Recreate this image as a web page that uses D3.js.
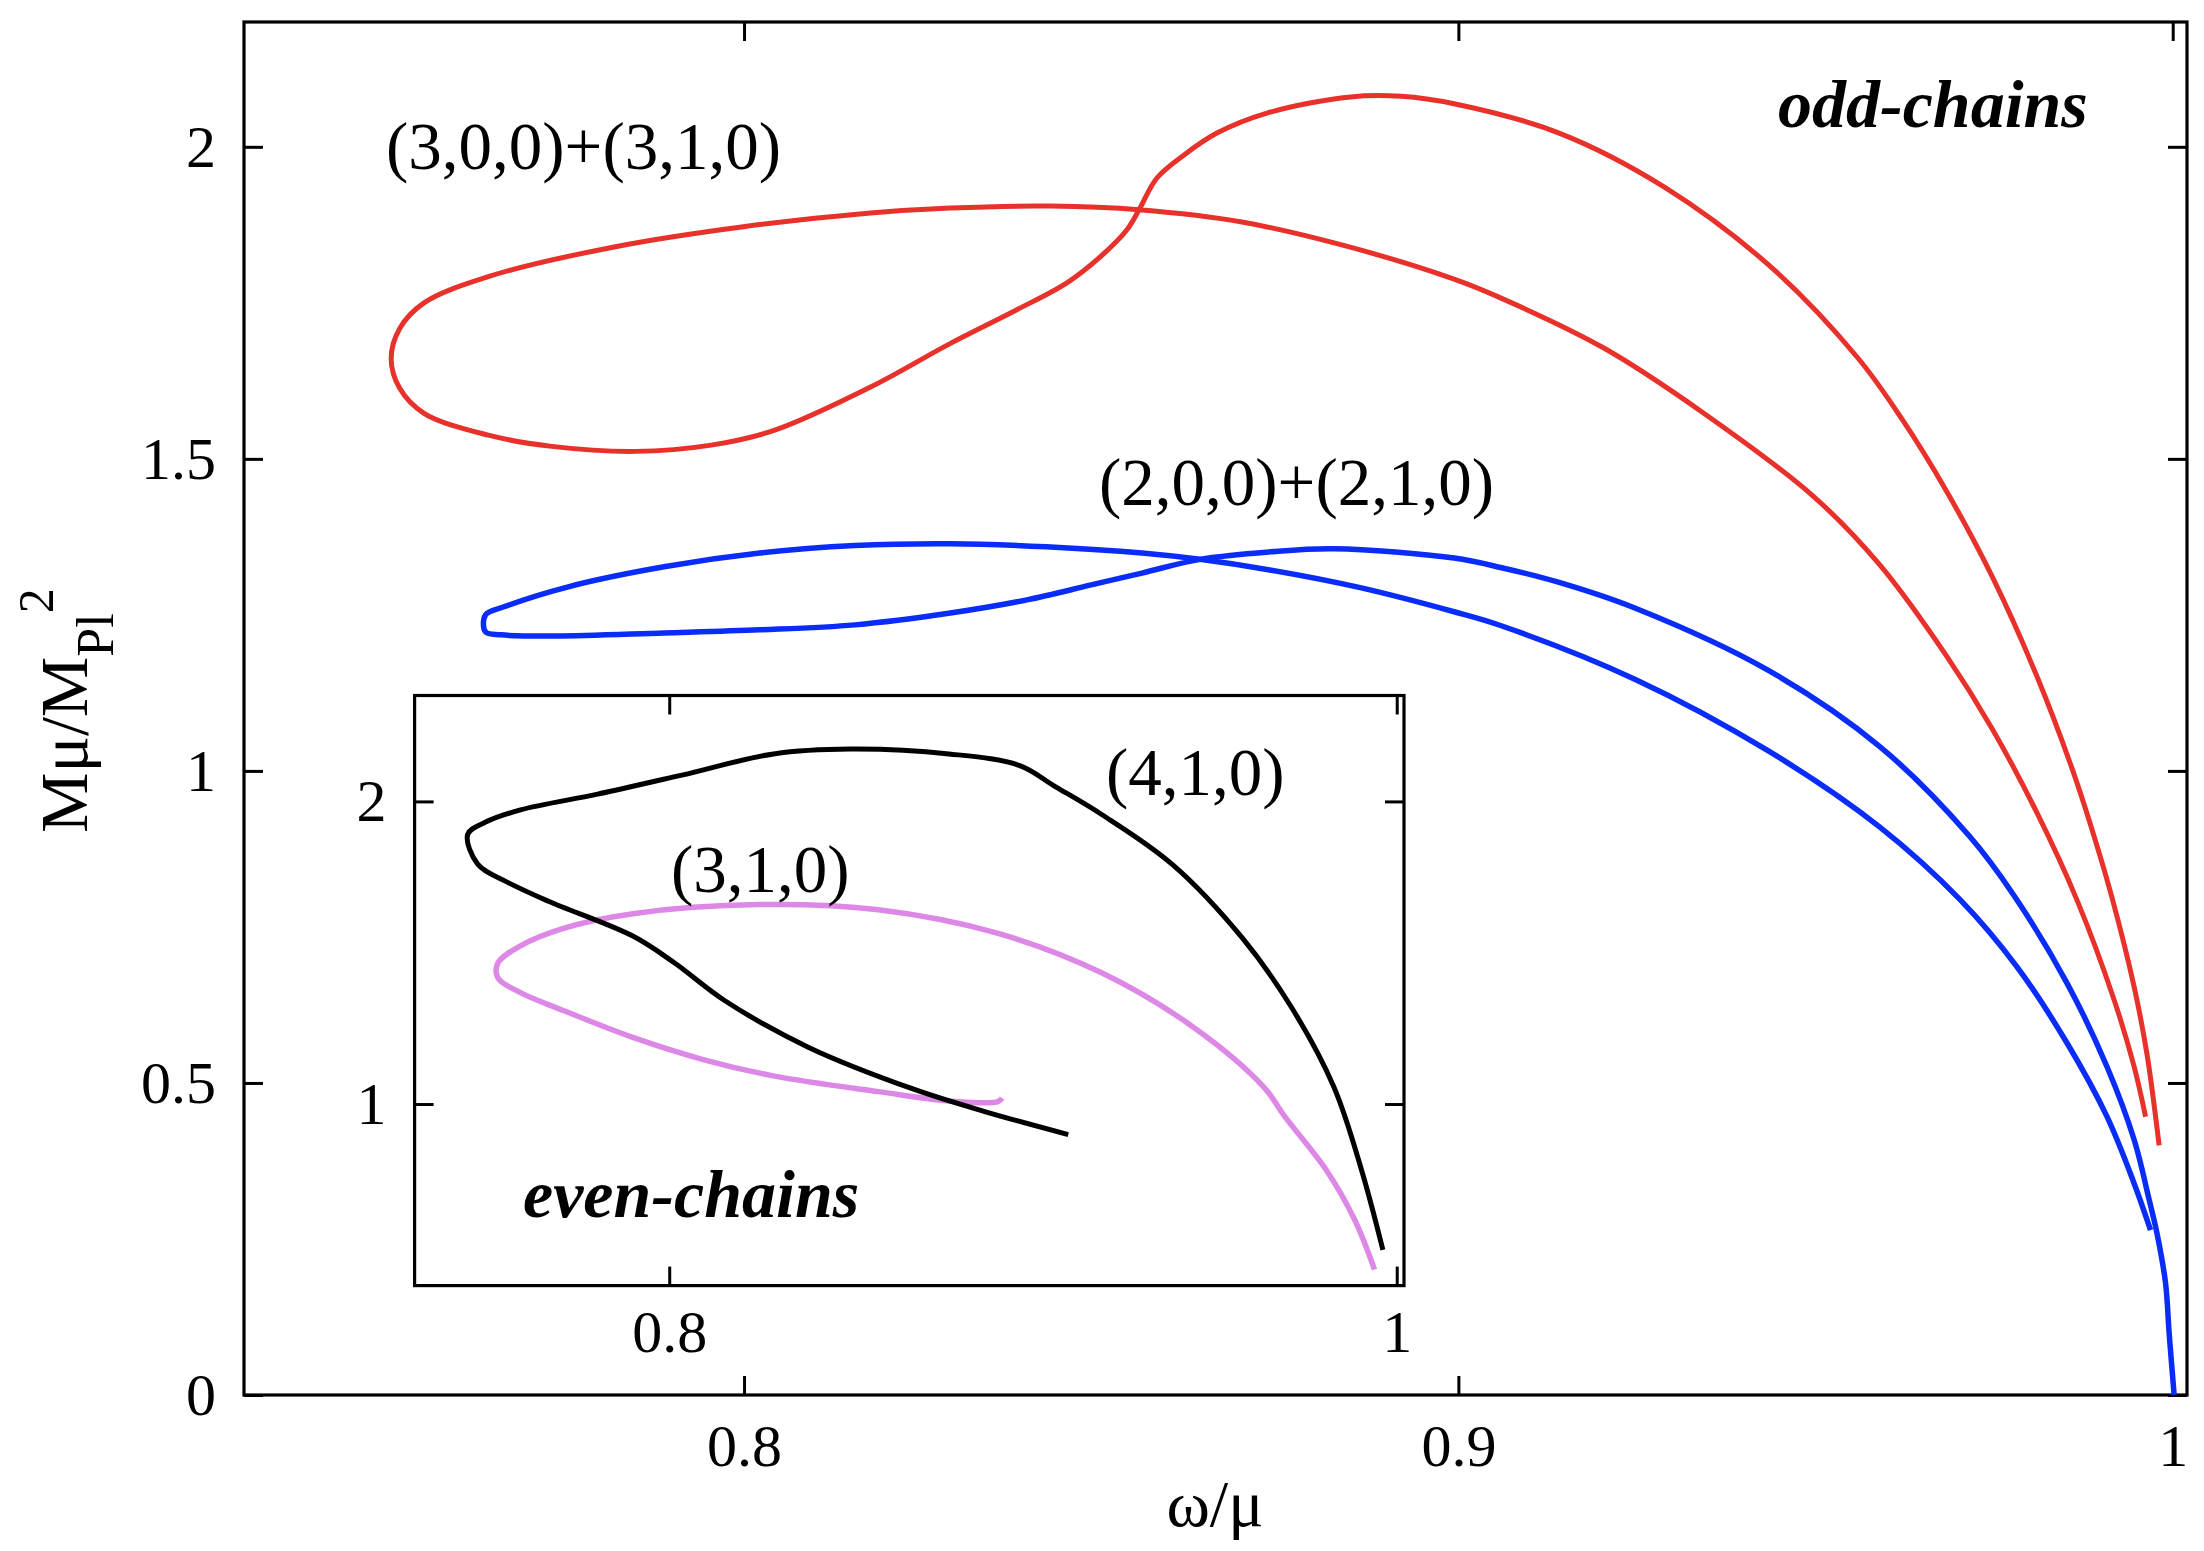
<!DOCTYPE html>
<html>
<head>
<meta charset="utf-8">
<script src="https://cdn.jsdelivr.net/npm/d3@7"></script>
<style>
  body { margin: 0; background: #fff; }
  text { font-family: "Liberation Serif", "Times New Roman", serif; fill: #000; }
</style>
</head>
<body>
<div id="chart"></div>
<script>
// odd chains (main panel): [omega/mu, M mu / M_Pl^2], traced along each branch
const oddChain3 = [
  [0.9962, 0.446], [0.9946, 0.526], [0.9918, 0.633], [0.9866, 0.793], [0.9809, 0.935],
  [0.9747, 1.068], [0.9684, 1.183], [0.9590, 1.330], [0.9497, 1.440], [0.9340, 1.576],
  [0.9203, 1.678], [0.9059, 1.758], [0.8994, 1.788], [0.8846, 1.840], [0.8699, 1.879],
  [0.8553, 1.899], [0.8429, 1.905], [0.8289, 1.902], [0.8177, 1.894], [0.7999, 1.872],
  [0.7820, 1.840], [0.7642, 1.792], [0.7552, 1.750], [0.7518, 1.709], [0.7506, 1.661],
  [0.7518, 1.613], [0.7552, 1.573], [0.7642, 1.538], [0.7731, 1.520], [0.7847, 1.512],
  [0.7954, 1.522], [0.8043, 1.546], [0.8177, 1.615], [0.8289, 1.685], [0.8382, 1.739],
  [0.8452, 1.782], [0.8499, 1.824], [0.8536, 1.867], [0.8553, 1.899], [0.8578, 1.950],
  [0.8616, 1.987], [0.8662, 2.022], [0.8732, 2.054], [0.8849, 2.080], [0.8920, 2.081],
  [0.8994, 2.069], [0.9141, 2.022], [0.9289, 1.935], [0.9437, 1.808], [0.9559, 1.662],
  [0.9622, 1.562], [0.9684, 1.447], [0.9747, 1.312], [0.9809, 1.154], [0.9859, 1.004],
  [0.9890, 0.895], [0.9915, 0.797], [0.9946, 0.654], [0.9964, 0.546], [0.9981, 0.400]
];
const oddChain2 = [
  [0.9969, 0.264], [0.9946, 0.339], [0.9908, 0.446], [0.9852, 0.564], [0.9782, 0.686],
  [0.9703, 0.793], [0.9590, 0.910], [0.9434, 1.032], [0.9247, 1.147], [0.9059, 1.233],
  [0.8994, 1.255], [0.8861, 1.294], [0.8736, 1.322], [0.8638, 1.339], [0.8557, 1.349],
  [0.8423, 1.359], [0.8289, 1.364], [0.8155, 1.361], [0.8022, 1.349], [0.7888, 1.327],
  [0.7754, 1.295], [0.7664, 1.263], [0.7638, 1.250], [0.7638, 1.223], [0.7660, 1.218],
  [0.7736, 1.216], [0.7888, 1.221], [0.8022, 1.226], [0.8155, 1.234], [0.8289, 1.253],
  [0.8396, 1.274], [0.8486, 1.298], [0.8557, 1.317], [0.8638, 1.339], [0.8736, 1.351],
  [0.8826, 1.356], [0.8994, 1.341], [0.9059, 1.326], [0.9141, 1.302], [0.9247, 1.261],
  [0.9434, 1.161], [0.9590, 1.039], [0.9715, 0.896], [0.9778, 0.800], [0.9852, 0.660],
  [0.9908, 0.526], [0.9946, 0.409], [0.9967, 0.313], [0.9978, 0.259], [0.9990, 0.179],
  [0.9995, 0.099], [1.0002, 0.000]
];

// even chains (inset)
const evenChain4 = [
  [0.9097, 0.899], [0.8865, 0.976], [0.8672, 1.049], [0.8382, 1.188], [0.8151, 1.343],
  [0.8015, 1.466], [0.7900, 1.555], [0.7668, 1.670], [0.7552, 1.735], [0.7474, 1.792],
  [0.7446, 1.891], [0.7494, 1.931], [0.7591, 1.972], [0.7803, 2.024], [0.8035, 2.087],
  [0.8287, 2.157], [0.8498, 2.173], [0.8769, 2.157], [0.8962, 2.119], [0.9060, 2.050],
  [0.9190, 1.956], [0.9383, 1.792], [0.9576, 1.548], [0.9711, 1.319], [0.9827, 1.057],
  [0.9904, 0.779], [0.9962, 0.518]
];
const evenChain3 = [
  [0.8915, 1.020], [0.8904, 1.008], [0.8788, 1.008], [0.8575, 1.041], [0.8286, 1.093],
  [0.8093, 1.147], [0.7900, 1.220], [0.7707, 1.310], [0.7591, 1.368], [0.7529, 1.417],
  [0.7529, 1.466], [0.7591, 1.523], [0.7707, 1.580], [0.7900, 1.629], [0.8247, 1.659],
  [0.8575, 1.642], [0.8904, 1.564], [0.9190, 1.433], [0.9441, 1.254], [0.9634, 1.057],
  [0.9692, 0.959], [0.9808, 0.779], [0.9885, 0.616], [0.9939, 0.453]
];

const mainXTicks = [0.8, 0.9, 1];
const mainYTicks = [0, 0.5, 1, 1.5, 2];
const insetXTicks = [0.8, 1];
const insetYTicks = [1, 2];

const W = 2204, H = 1551;
const fmt = d3.format("~g");

let svg = d3.select("#chart").append("svg")
    .attr("width", W)
    .attr("height", H)
    .style("background", "#fff");

// main panel scales
let x = d3.scaleLinear().domain([0.73, 1.002]).range([244, 2187]);
let y = d3.scaleLinear().domain([0, 2.2]).range([1395, 22]);

function drawAxes(g, sx, sy, xt, yt, tick, xpad, ypad, fs) {
    let [x0, x1] = sx.range();
    let [y0, y1] = sy.range();
    g.append("g").attr("transform", "translate(0," + y0 + ")")
        .call(d3.axisBottom(sx).tickValues(xt).tickFormat(fmt).tickSizeInner(-tick).tickSizeOuter(0).tickPadding(xpad));
    g.append("g").attr("transform", "translate(0," + y1 + ")")
        .call(d3.axisTop(sx).tickValues(xt).tickFormat("").tickSizeInner(-tick).tickSizeOuter(0));
    g.append("g").attr("transform", "translate(" + x0 + ",0)")
        .call(d3.axisLeft(sy).tickValues(yt).tickFormat(fmt).tickSizeInner(-tick).tickSizeOuter(0).tickPadding(ypad));
    g.append("g").attr("transform", "translate(" + x1 + ",0)")
        .call(d3.axisRight(sy).tickValues(yt).tickFormat("").tickSizeInner(-tick).tickSizeOuter(0));
    g.selectAll(".domain").remove();
    g.selectAll(".tick line").attr("stroke", "#000").attr("stroke-width", 3);
    g.selectAll(".tick text")
        .style("font-family", "'Liberation Serif', serif")
        .style("font-size", fs + "px")
        .attr("fill", "#000");
    g.append("rect")
        .attr("x", x0).attr("y", y1)
        .attr("width", x1 - x0).attr("height", y0 - y1)
        .attr("fill", "none").attr("stroke", "#000").attr("stroke-width", 3.2);
}

let mainG = svg.append("g");
drawAxes(mainG, x, y, mainXTicks, mainYTicks, 19, 28, 28, 60);

let line = d3.line().x(d => x(d[0])).y(d => y(d[1])).curve(d3.curveCatmullRom.alpha(0.5));

mainG.append("path").datum(oddChain3)
    .attr("d", line).attr("fill", "none")
    .attr("stroke", "#e8312a").attr("stroke-width", 5);
mainG.append("path").datum(oddChain2)
    .attr("d", line).attr("fill", "none")
    .attr("stroke", "#0a2cf8").attr("stroke-width", 5.5);

// inset panel
let xi = d3.scaleLinear().domain([0.73, 1.002]).range([414.6, 1404]);
let yi = d3.scaleLinear().domain([0.4, 2.35]).range([1285.6, 695.5]);

let insetG = svg.append("g");
insetG.append("rect")
    .attr("x", 414.6).attr("y", 695.5)
    .attr("width", 1404 - 414.6).attr("height", 1285.6 - 695.5)
    .attr("fill", "#fff");
svg.append("clipPath").attr("id", "insetClip")
    .append("rect")
    .attr("x", 414.6).attr("y", 695.5)
    .attr("width", 1404 - 414.6).attr("height", 1285.6 - 695.5);

let lineI = d3.line().x(d => xi(d[0])).y(d => yi(d[1])).curve(d3.curveCatmullRom.alpha(0.5));

insetG.append("path").datum(evenChain3)
    .attr("d", lineI).attr("fill", "none").attr("clip-path", "url(#insetClip)")
    .attr("stroke", "#dd88e6").attr("stroke-width", 5.5);
insetG.append("path").datum(evenChain4)
    .attr("d", lineI).attr("fill", "none").attr("clip-path", "url(#insetClip)")
    .attr("stroke", "#000").attr("stroke-width", 5);

drawAxes(insetG, xi, yi, insetXTicks, insetYTicks, 19, 24, 28, 60);

// curve labels
svg.append("text").attr("x", 386).attr("y", 169).style("font-size", "67px").text("(3,0,0)+(3,1,0)");
svg.append("text").attr("x", 1099).attr("y", 505).style("font-size", "67px").text("(2,0,0)+(2,1,0)");
svg.append("text").attr("x", 671).attr("y", 892).style("font-size", "67px").text("(3,1,0)");
svg.append("text").attr("x", 1106).attr("y", 795).style("font-size", "67px").text("(4,1,0)");

svg.append("text").attr("x", 1778).attr("y", 127)
    .style("font-size", "68px").style("font-weight", "bold").style("font-style", "italic")
    .text("odd-chains");
svg.append("text").attr("x", 523).attr("y", 1217)
    .style("font-size", "68px").style("font-weight", "bold").style("font-style", "italic")
    .text("even-chains");

// axis titles
svg.append("text").attr("x", 1215).attr("y", 1526)
    .attr("text-anchor", "middle").style("font-size", "66px").text("ω/μ");

let yTitle = svg.append("text")
    .attr("transform", "translate(87,833) rotate(-90)")
    .style("font-size", "68px");
yTitle.append("tspan").text("Mμ/M");
yTitle.append("tspan").attr("dy", 26).style("font-size", "52px").text("Pl");
yTitle.append("tspan").attr("dy", -60).style("font-size", "50px").text("2");
</script>
</body>
</html>
